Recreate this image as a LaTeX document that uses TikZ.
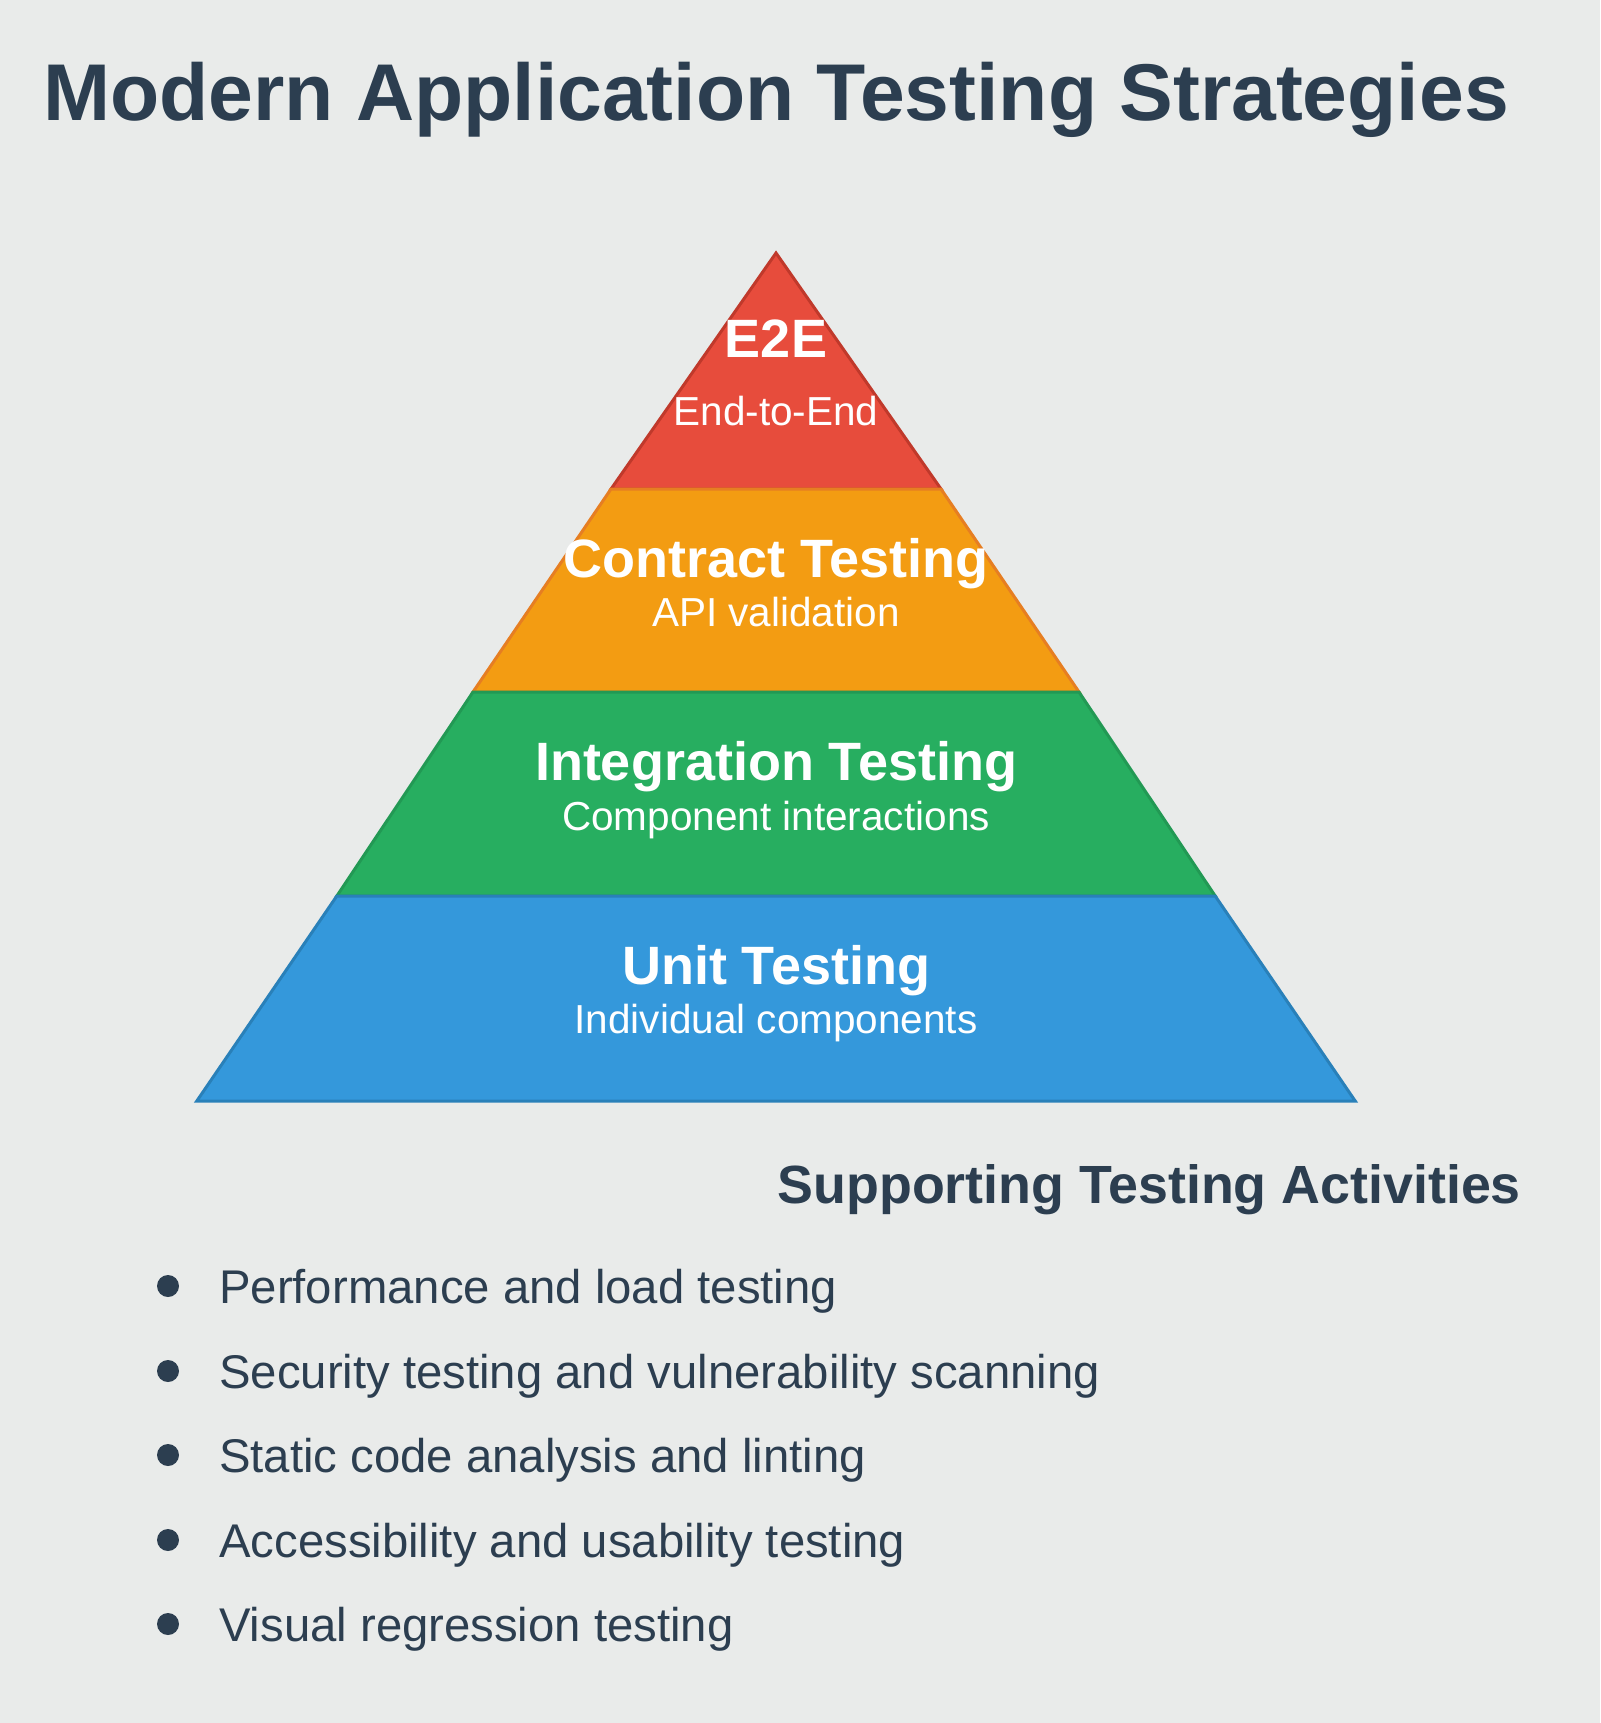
\documentclass[tikz,border=0pt]{standalone}
\usepackage{fontspec}
\setmainfont{Liberation Sans}
\definecolor{bgc}{HTML}{E9EBEA}
\definecolor{ink}{HTML}{2C3E50}
\definecolor{redf}{HTML}{E74C3C}
\definecolor{reds}{HTML}{C0392B}
\definecolor{orgf}{HTML}{F39C12}
\definecolor{orgs}{HTML}{E67E22}
\definecolor{grnf}{HTML}{27AE60}
\definecolor{grns}{HTML}{229954}
\definecolor{bluf}{HTML}{3498DB}
\definecolor{blus}{HTML}{2980B9}
\tikzset{
  layer/.style={line width=3pt, line join=miter},
  titletext/.style={inner sep=0, text=ink, font=\fontsize{80.5}{96}\selectfont\bfseries},
  headtext/.style={inner sep=0, text=ink, font=\fontsize{53.8}{64}\selectfont\bfseries},
  layerhead/.style={inner sep=0, anchor=base, text=white, font=\fontsize{54}{64}\selectfont\bfseries},
  layersub/.style={inner sep=0, anchor=base, text=white, font=\fontsize{40.5}{48}\selectfont},
  itemtext/.style={inner sep=0, anchor=base west, text=ink, font=\fontsize{47.3}{56}\selectfont},
  bulletdot/.style={circle, fill=ink, inner sep=0, minimum size=22pt},
}
\begin{document}
\begin{tikzpicture}[x=1pt,y=-1pt]
\fill[bgc] (0,0) rectangle (1600,1723);
\useasboundingbox (0,0) rectangle (1600,1723);
% pyramid layers
\filldraw[layer, fill=redf, draw=reds] (776,253) -- (941,489) -- (611,489) -- cycle;
\filldraw[layer, fill=orgf, draw=orgs] (611,489) -- (941,489) -- (1079,692) -- (473,692) -- cycle;
\filldraw[layer, fill=grnf, draw=grns] (473,692) -- (1079,692) -- (1215.2,896) -- (336.8,896) -- cycle;
\filldraw[layer, fill=bluf, draw=blus] (336.8,896) -- (1215.2,896) -- (1355.2,1101) -- (196.8,1101) -- cycle;
% title
\node[titletext, anchor=base west] (title) at (43,121) {Modern Application Testing Strategies};
% layer labels
\node[layerhead] (e2e) at (776,357) {E2E};
\node[layersub] (e2esub) at (776,425) {End-to-End};
\node[layerhead] (contract) at (776,577) {Contract Testing};
\node[layersub] (contractsub) at (776,626) {API validation};
\node[layerhead] (integ) at (776,780) {Integration Testing};
\node[layersub] (integsub) at (776,830) {Component interactions};
\node[layerhead] (unit) at (776,984) {Unit Testing};
\node[layersub] (unitsub) at (776,1033) {Individual components};
% supporting activities
\node[headtext, anchor=base east] (support) at (1521,1203) {Supporting Testing Activities};
\node[bulletdot] (d1) at (168,1286) {};
\node[itemtext] (i1) at (219,1303) {Performance and load testing};
\node[bulletdot] (d2) at (168,1371) {};
\node[itemtext] (i2) at (219,1388) {Security testing and vulnerability scanning};
\node[bulletdot] (d3) at (168,1455) {};
\node[itemtext] (i3) at (219,1472) {Static code analysis and linting};
\node[bulletdot] (d4) at (168,1540) {};
\node[itemtext] (i4) at (219,1557) {Accessibility and usability testing};
\node[bulletdot] (d5) at (168,1624) {};
\node[itemtext] (i5) at (219,1641) {Visual regression testing};
\end{tikzpicture}
\end{document}
